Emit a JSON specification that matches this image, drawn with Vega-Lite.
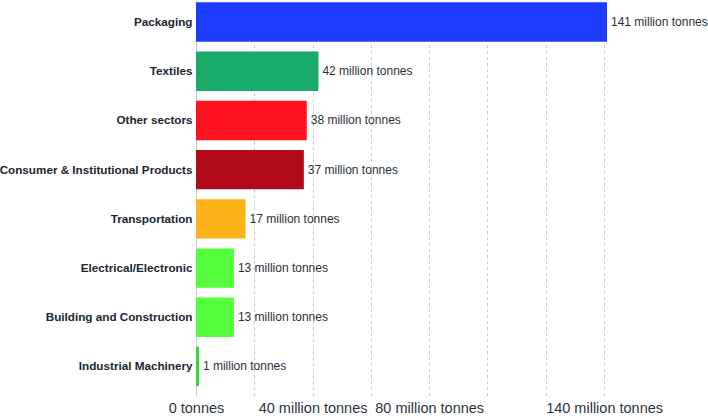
{
  "$schema": "https://vega.github.io/schema/vega-lite/v6.json",
  "autosize": {"type": "none"},
  "width": 411,
  "height": 395.6,
  "padding": {"left": 196, "top": 0, "right": 101, "bottom": 20.4},
  "background": "white",
  "config": {"view": {"stroke": null}, "font": "Liberation Sans"},
  "data": {
    "values": [
      {"Sector": "Packaging", "Value": 141, "Label": "141 million tonnes"},
      {"Sector": "Textiles", "Value": 42, "Label": "42 million tonnes"},
      {"Sector": "Other sectors", "Value": 38, "Label": "38 million tonnes"},
      {"Sector": "Consumer & Institutional Products", "Value": 37, "Label": "37 million tonnes"},
      {"Sector": "Transportation", "Value": 17, "Label": "17 million tonnes"},
      {"Sector": "Electrical/Electronic", "Value": 13, "Label": "13 million tonnes"},
      {"Sector": "Building and Construction", "Value": 13, "Label": "13 million tonnes"},
      {"Sector": "Industrial Machinery", "Value": 1, "Label": "1 million tonnes"}
    ]
  },
  "encoding": {
    "y": {
      "field": "Sector",
      "type": "nominal",
      "sort": null,
      "scale": {"paddingInner": 0.2, "paddingOuter": 0.12, "align": 0.2},
      "axis": {
        "title": null,
        "ticks": false,
        "domain": true,
        "domainColor": "#c9ced3",
        "domainWidth": 1,
        "labelPadding": 4,
        "labelFontWeight": "bold",
        "labelFontSize": 11.7,
        "labelColor": "#1c2630",
        "labelLimit": 300
      }
    },
    "x": {
      "field": "Value",
      "type": "quantitative",
      "scale": {"domain": [0, 141], "nice": false},
      "axis": {
        "title": null,
        "values": [0, 20, 40, 60, 80, 100, 120, 140],
        "labelExpr": "datum.value == 0 ? '0 tonnes' : (datum.value == 40 || datum.value == 80 || datum.value == 140) ? datum.value + ' million tonnes' : ''",
        "labelOverlap": false,
        "labelFontSize": 14.5,
        "labelColor": "#2a353f",
        "labelPadding": 6,
        "labelBaseline": "top",
        "labelFlush": false,
        "ticks": false,
        "domain": false,
        "grid": true,
        "gridDash": [3, 3],
        "gridColor": "#c3ccd3",
        "gridWidth": 1
      }
    }
  },
  "layer": [
    {
      "mark": {"type": "bar"},
      "encoding": {
        "color": {
          "field": "Sector",
          "type": "nominal",
          "legend": null,
          "scale": {
            "domain": ["Packaging", "Textiles", "Other sectors", "Consumer & Institutional Products", "Transportation", "Electrical/Electronic", "Building and Construction", "Industrial Machinery"],
            "range": ["#1b3cfe", "#1aab6b", "#ff111f", "#b10a1b", "#fdb41b", "#55fd3d", "#55fd3d", "#30d530"]
          }
        }
      }
    },
    {
      "mark": {"type": "text", "align": "left", "baseline": "middle", "dx": 4, "fontSize": 12, "color": "#2a2f35"},
      "encoding": {
        "text": {"field": "Label", "type": "nominal"}
      }
    }
  ]
}
